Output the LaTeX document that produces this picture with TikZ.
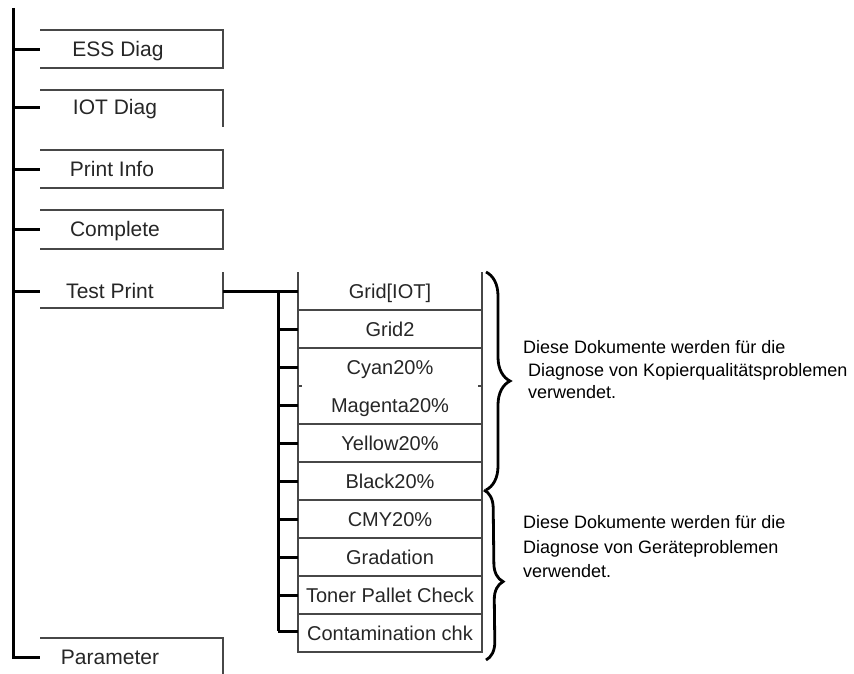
\documentclass[tikz,border=0pt]{standalone}
\usepackage{fontspec}
\setmainfont{Liberation Sans}
\usetikzlibrary{decorations.pathreplacing}
\begin{document}
\begin{tikzpicture}[x=1pt,y=-1pt,
  boxline/.style={line width=1.2pt, draw=black!72},
  trunk/.style={line width=3pt, draw=black},
  lbl/.style={font=\fontsize{21}{24}\selectfont, text=black!85, inner sep=0pt, anchor=base},
  sublbl/.style={font=\fontsize{20}{22}\selectfont, text=black!85, inner sep=0pt, anchor=base},
  note/.style={font=\fontsize{18}{22}\selectfont, text=black, inner sep=0pt, anchor=base west},
  bracestyle/.style={line width=2.8pt, decorate}
]
\useasboundingbox (0,0) rectangle (854,674);

% ---- left boxes (open on the left) ----
\draw[boxline] (40,30) -- (223,30) -- (223,68) -- (40,68);
\draw[boxline] (40,90) -- (223,90) -- (223,127);
\draw[boxline] (40,150) -- (223,150) -- (223,188) -- (40,188);
\draw[boxline] (40,210) -- (223,210) -- (223,249) -- (40,249);
\draw[boxline] (223,272) -- (223,308) -- (40,308);
\draw[boxline] (40,638) -- (223,638) -- (223,674);

\node[lbl] (ess)   at (118,57)  {ESS Diag};
\node[lbl] (iot)   at (115,115) {IOT Diag};
\node[lbl] (pinfo) at (112,176) {Print Info};
\node[lbl] (compl) at (115,236) {Complete};
\node[lbl] (tprint) at (110,298) {Test Print};
\node[lbl] (param) at (110,664) {Parameter};

% ---- main trunk ----
\coordinate (top) at (13,8);
\coordinate (essL) at (40,50);
\coordinate (iotL) at (40,108);
\coordinate (pinfoL) at (40,169);
\coordinate (complL) at (40,229);
\coordinate (tprintL) at (40,291);
\coordinate (paramL) at (40,657);
\draw[trunk] (top) |- (paramL);
\foreach \c in {essL,iotL,pinfoL,complL,tprintL}
  \draw[trunk] (13,0 |- \c) -- (\c);

% ---- sub column ----
\draw[boxline] (298,272) -- (298,652) -- (482,652) -- (482,272);
\foreach \i in {1,2,4,5,6,7,8,9}
  \draw[boxline] (298,272+38*\i) -- (482,272+38*\i);
\draw[boxline] (298,386) -- (302,386);
\draw[boxline] (478,386) -- (482,386);

\foreach \t [count=\i from 0] in {Grid[IOT],Grid2,Cyan20\%,Magenta20\%,Yellow20\%,Black20\%,CMY20\%,Gradation,Toner Pallet Check,Contamination chk}
  \node[sublbl] (s\i) at (390,291+38*\i+7) {\t};

\coordinate (tpR) at (223,291);
\coordinate (subtop) at (278,291);
\coordinate (subbot) at (278,631);
\draw[trunk] (tpR) -- (298,291);
\draw[trunk] (subtop) -- (subbot);
\foreach \i in {1,...,8}
  \draw[trunk] (278,291+38*\i) -- (298,291+38*\i);
\draw[trunk] (subbot) -- (298,631);

% ---- braces ----
\coordinate (b1a) at (486,272);
\coordinate (b1b) at (486,490);
\coordinate (b2a) at (484,490);
\coordinate (b2b) at (486,660);
\draw[bracestyle, decoration={brace, amplitude=24pt}] (b1a) -- (b1b);
\draw[bracestyle, decoration={brace, amplitude=18pt, aspect=0.54}] (b2a) -- (b2b);

% ---- notes ----
\node[note] (n1a) at (523,353) {Diese Dokumente werden für die};
\node[note] (n1b) at (528,376) {Diagnose von Kopierqualitätsproblemen};
\node[note] (n1c) at (528,398) {verwendet.};
\node[note] (n2a) at (523,528) {Diese Dokumente werden für die};
\node[note] (n2b) at (523,553) {Diagnose von Geräteproblemen};
\node[note] (n2c) at (523,577) {verwendet.};
\end{tikzpicture}
\end{document}
